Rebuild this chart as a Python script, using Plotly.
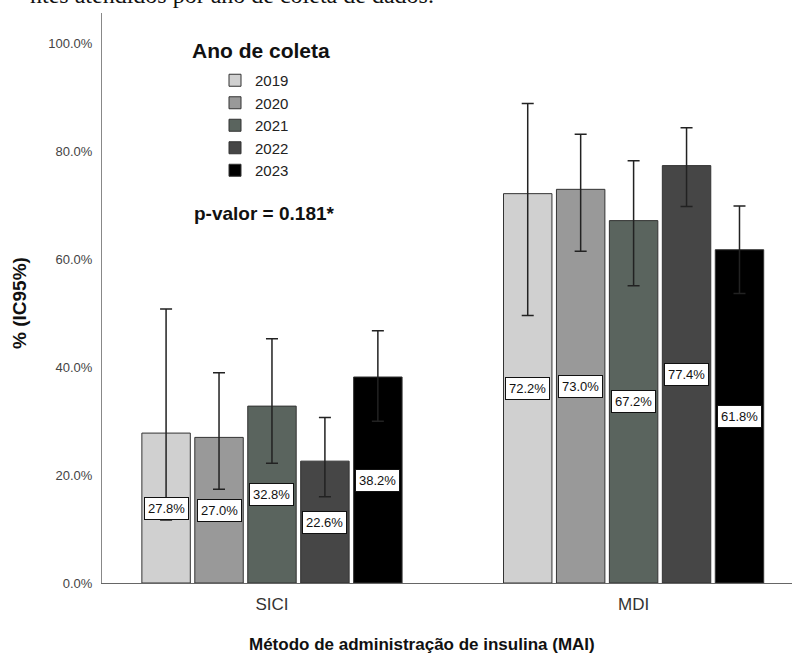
import plotly.graph_objects as go

categories = ["SICI", "MDI"]
years = ["2019", "2020", "2021", "2022", "2023"]
colors = ["#d0d0d0", "#999999", "#5a645e", "#464646", "#000000"]

values = {
    "2019": [27.8, 72.2],
    "2020": [27.0, 73.0],
    "2021": [32.8, 67.2],
    "2022": [22.6, 77.4],
    "2023": [38.2, 61.8],
}
ci_upper = {
    "2019": [50.8, 88.9],
    "2020": [39.0, 83.2],
    "2021": [45.3, 78.3],
    "2022": [30.7, 84.4],
    "2023": [46.8, 69.9],
}
ci_lower = {
    "2019": [11.7, 49.6],
    "2020": [17.4, 61.5],
    "2021": [22.2, 55.1],
    "2022": [16.0, 69.8],
    "2023": [30.0, 53.7],
}
y_ticks = [0, 20, 40, 60, 80, 100]
y_ticktext = ["0.0%", "20.0%", "40.0%", "60.0%", "80.0%", "100.0%"]

W, H = 792, 657
L, R, T, B = 102, 0, 13, 74
plot_h = H - T - B
plot_w = W - L - R

def px_to_paper_x(px):
    return (px - L) / plot_w

def px_to_paper_y(py):
    return (H - B - py) / plot_h

bargap = 0.268
bargroupgap = 0.085
slot = (1 - bargap) / len(years)
FONT = "Liberation Sans, Arial, sans-serif"

fig = go.Figure()
annotations = []
for i, yr in enumerate(years):
    v = values[yr]
    up = [u - x for u, x in zip(ci_upper[yr], v)]
    lo = [x - l for l, x in zip(ci_lower[yr], v)]
    fig.add_trace(go.Bar(
        name=yr, x=categories, y=v,
        marker=dict(color=colors[i], line=dict(color="#333333", width=1)),
        error_y=dict(type="data", array=up, arrayminus=lo, color="#222222",
                     thickness=1.5, width=6),
    ))
    off = (i - (len(years) - 1) / 2) * slot
    for ci, val in enumerate(v):
        annotations.append(dict(
            x=ci + off, y=val / 2, xref="x", yref="y",
            text=f"{val:.1f}%", showarrow=False,
            font=dict(family=FONT, size=13, color="#111111"),
            bgcolor="white", bordercolor="#111111", borderwidth=1, borderpad=3,
        ))

annotations += [
    dict(text="<b>Ano de coleta</b>", xref="paper", yref="paper",
         x=px_to_paper_x(190), y=px_to_paper_y(51), xanchor="left", yanchor="middle",
         showarrow=False, font=dict(family=FONT, size=21, color="#111111")),
    dict(text="<b>p-valor = 0.181*</b>", xref="paper", yref="paper",
         x=px_to_paper_x(192), y=px_to_paper_y(213), xanchor="left", yanchor="middle",
         showarrow=False, font=dict(family=FONT, size=19, color="#111111")),
    dict(text="<b>Método de administração de insulina (MAI)</b>", xref="paper", yref="paper",
         x=px_to_paper_x(422), y=px_to_paper_y(645), xanchor="center", yanchor="middle",
         showarrow=False, font=dict(family=FONT, size=17, color="#111111")),
    dict(text="<b>% (IC95%)</b>", xref="paper", yref="paper", textangle=-90,
         x=px_to_paper_x(19), y=px_to_paper_y(303), xanchor="center", yanchor="middle",
         showarrow=False, font=dict(family=FONT, size=19, color="#111111")),
    dict(text="ntes atendidos por ano de coleta de dados.", xref="paper", yref="paper",
         x=px_to_paper_x(436), y=px_to_paper_y(10), xanchor="right", yanchor="bottom",
         showarrow=False, font=dict(family="Liberation Serif, Times New Roman, serif", size=24, color="#111111")),
]

fig.update_layout(
    width=W, height=H, autosize=False,
    margin=dict(l=L, r=R, t=T, b=B, pad=0),
    paper_bgcolor="white", plot_bgcolor="white",
    barmode="group", bargap=bargap, bargroupgap=bargroupgap,
    font=dict(family=FONT, color="#222222"),
    annotations=annotations,
    showlegend=True,
    legend=dict(
        x=px_to_paper_x(215), y=px_to_paper_y(64), xanchor="left", yanchor="top",
        bgcolor="rgba(0,0,0,0)", font=dict(size=15, color="#222222"),
        itemclick=False, itemdoubleclick=False, tracegroupgap=0,
    ),
    xaxis=dict(
        range=[-0.47, 1.438], showline=True, linecolor="#666666", linewidth=1,
        showgrid=False, zeroline=False, ticks="", ticklabelstandoff=6,
        tickfont=dict(size=17, color="#333333"),
    ),
    yaxis=dict(
        range=[0, 105.7], tickvals=y_ticks, ticktext=y_ticktext,
        showline=True, linecolor="#888888", linewidth=1,
        showgrid=False, zeroline=False, ticks="", ticklabelstandoff=6,
        tickfont=dict(size=13, color="#444444"),
    ),
)

fig.write_html("out.html", config={"displayModeBar": False},
               post_script="document.body.style.margin='0';document.body.style.overflow='hidden';")
